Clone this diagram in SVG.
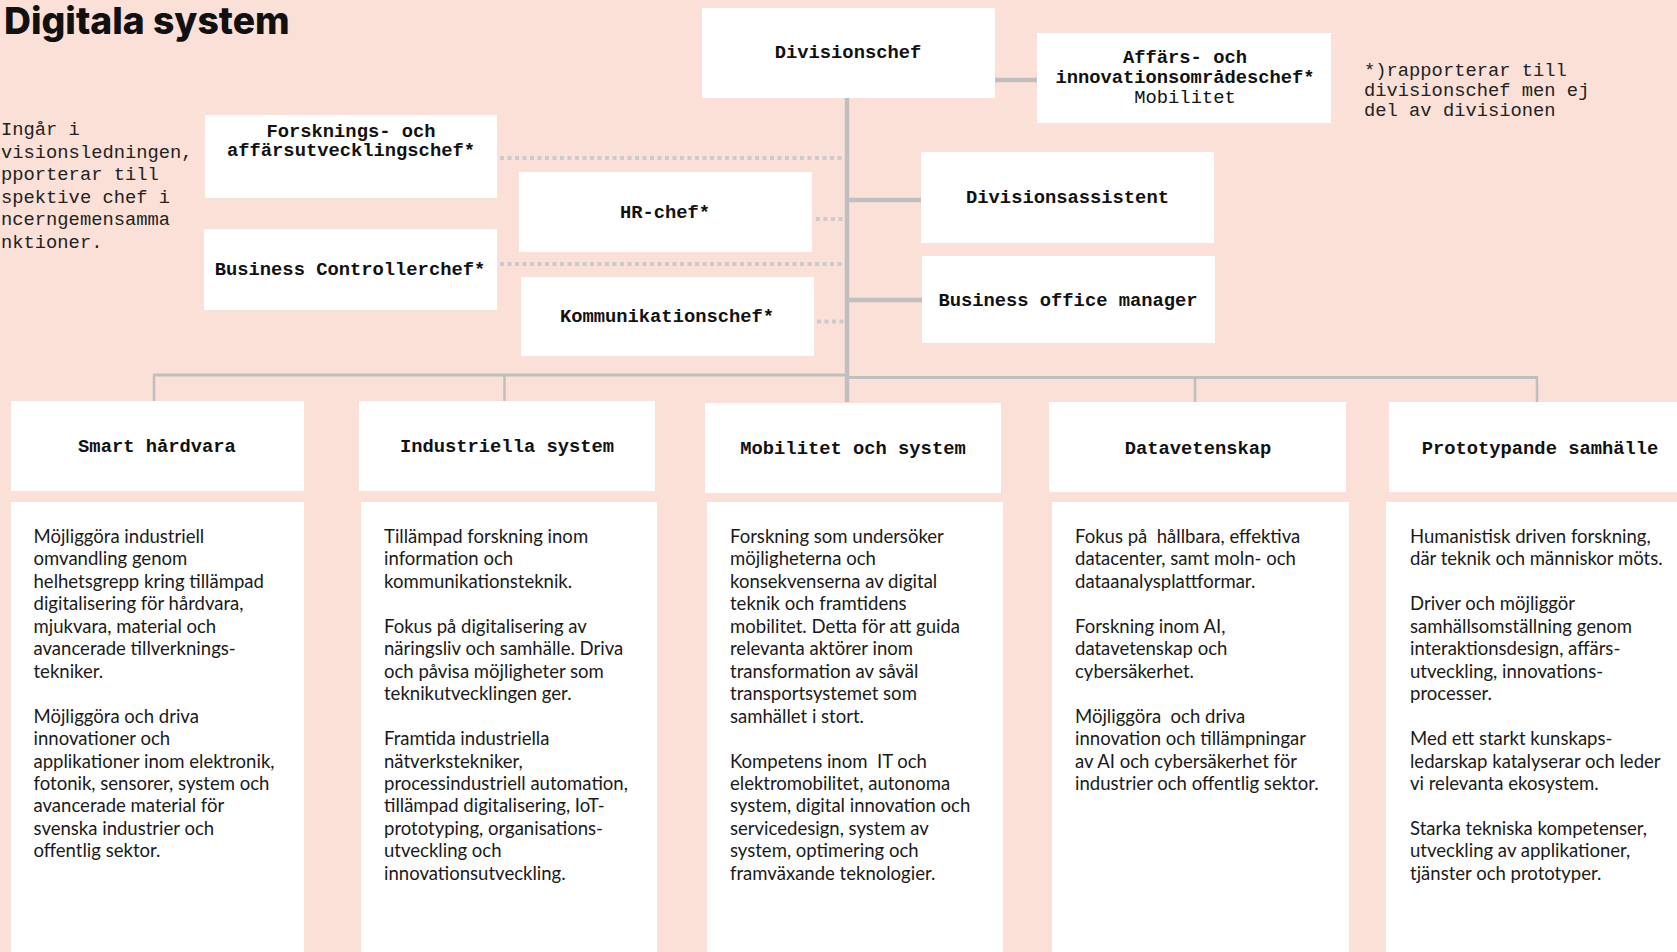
<svg xmlns="http://www.w3.org/2000/svg" width="1677" height="952" viewBox="0 0 1677 952">
<style>
.box{fill:#ffffff}
.lbl{font-family:"Liberation Mono","DejaVu Sans Mono",monospace;font-size:18.8px;font-weight:bold;fill:#111111;text-anchor:middle}
.reg{font-weight:normal}
.note{font-family:"Liberation Mono","DejaVu Sans Mono",monospace;font-size:18.8px;fill:#222222}
.body{font-family:Lato,"Open Sans",sans-serif;font-size:18.55px;fill:#1a1a1a}
.solid{stroke:#bfbfbf;stroke-width:4.5;fill:none}
.bus{stroke:#bfbfbf;stroke-width:3;fill:none}
.drop{stroke:#bfbfbf;stroke-width:2.5;fill:none}
.dot{stroke:#cbcbcb;stroke-width:4;stroke-dasharray:4 3.5;fill:none}
</style>
<rect x="0" y="0" width="1677" height="952" fill="#fae0d7"/>
<text x="4" y="34" font-family="Inter,'Open Sans',sans-serif" font-weight="800" font-size="37.3" fill="#111111">Digitala system</text>
<g id="note-left" class="note">
<text x="1" y="135">Ingår i</text>
<text x="1" y="157.5">visionsledningen,</text>
<text x="1" y="180">pporterar till</text>
<text x="1" y="202.5">spektive chef i</text>
<text x="1" y="225">ncerngemensamma</text>
<text x="1" y="247.5">nktioner.</text>
</g>
<g id="note-right" class="note">
<text x="1364" y="76">*)rapporterar till</text>
<text x="1364" y="96">divisionschef men ej</text>
<text x="1364" y="116">del av divisionen</text>
</g>
<g id="connectors">
<line class="solid" x1="847" y1="98" x2="847" y2="402"/>
<line class="solid" x1="995" y1="80" x2="1037" y2="80"/>
<line class="solid" x1="847" y1="200" x2="921" y2="200"/>
<line class="solid" x1="849" y1="300" x2="922" y2="300"/>
<line class="dot" x1="500" y1="158" x2="843" y2="158"/>
<line class="dot" x1="816" y1="219" x2="843" y2="219"/>
<line class="dot" x1="500" y1="264" x2="845" y2="264"/>
<line class="dot" x1="817" y1="321.5" x2="845" y2="321.5"/>
<line class="bus" x1="153" y1="375" x2="847" y2="375"/>
<line class="bus" x1="847" y1="377.5" x2="1538" y2="377.5"/>
<line class="drop" x1="154" y1="375" x2="154" y2="401"/>
<line class="drop" x1="504.5" y1="375" x2="504.5" y2="401"/>
<line class="drop" x1="1195" y1="377.5" x2="1195" y2="402"/>
<line class="drop" x1="1537" y1="377.5" x2="1537" y2="402"/>
</g>
<g id="divisionschef"><rect class="box" x="702" y="8" width="293" height="90"/><text class="lbl" x="848" y="58">Divisionschef</text></g>
<g id="affars"><rect class="box" x="1037" y="33" width="294" height="90"/><text class="lbl" x="1185" y="63">Affärs- och</text><text class="lbl" x="1185" y="83">innovationsområdeschef*</text><text class="lbl reg" x="1185" y="103">Mobilitet</text></g>
<g id="forsknings"><rect class="box" x="205" y="115" width="292" height="83"/><text class="lbl" x="351" y="137">Forsknings- och</text><text class="lbl" x="351" y="156">affärsutvecklingschef*</text></g>
<g id="hr"><rect class="box" x="519" y="172" width="293" height="80"/><text class="lbl" x="665" y="218">HR-chef*</text></g>
<g id="divisionsassistent"><rect class="box" x="921" y="152" width="293" height="91"/><text class="lbl" x="1067.5" y="203">Divisionsassistent</text></g>
<g id="controller"><rect class="box" x="204" y="229" width="293" height="81"/><text class="lbl" x="350" y="275">Business Controllerchef*</text></g>
<g id="kommunikation"><rect class="box" x="521" y="277" width="293" height="79"/><text class="lbl" x="667" y="322">Kommunikationschef*</text></g>
<g id="bom"><rect class="box" x="922" y="256" width="293" height="87"/><text class="lbl" x="1068" y="305.5">Business office manager</text></g>
<g id="smart">
<rect class="box" x="11" y="401" width="293" height="90"/><text class="lbl" x="157" y="452">Smart hårdvara</text>
<rect class="box" x="11" y="502" width="293" height="460"/>
<text class="body">
<tspan x="33.5" y="543">Möjliggöra industriell</tspan>
<tspan x="33.5" y="565.45">omvandling genom</tspan>
<tspan x="33.5" y="587.9">helhetsgrepp kring tillämpad</tspan>
<tspan x="33.5" y="610.35">digitalisering för hårdvara,</tspan>
<tspan x="33.5" y="632.8">mjukvara, material och</tspan>
<tspan x="33.5" y="655.25">avancerade tillverknings-</tspan>
<tspan x="33.5" y="677.7">tekniker.</tspan>
<tspan x="33.5" y="722.6">Möjliggöra och driva</tspan>
<tspan x="33.5" y="745.05">innovationer och</tspan>
<tspan x="33.5" y="767.5">applikationer inom elektronik,</tspan>
<tspan x="33.5" y="789.95">fotonik, sensorer, system och</tspan>
<tspan x="33.5" y="812.4">avancerade material för</tspan>
<tspan x="33.5" y="834.85">svenska industrier och</tspan>
<tspan x="33.5" y="857.3">offentlig sektor.</tspan>
</text>
</g>
<g id="industriella">
<rect class="box" x="359" y="401" width="296" height="90"/><text class="lbl" x="507" y="452">Industriella system</text>
<rect class="box" x="361" y="502" width="296" height="460"/>
<text class="body">
<tspan x="384" y="543">Tillämpad forskning inom</tspan>
<tspan x="384" y="565.45">information och</tspan>
<tspan x="384" y="587.9">kommunikationsteknik.</tspan>
<tspan x="384" y="632.8">Fokus på digitalisering av</tspan>
<tspan x="384" y="655.25">näringsliv och samhälle. Driva</tspan>
<tspan x="384" y="677.7">och påvisa möjligheter som</tspan>
<tspan x="384" y="700.15">teknikutvecklingen ger.</tspan>
<tspan x="384" y="745.05">Framtida industriella</tspan>
<tspan x="384" y="767.5">nätverkstekniker,</tspan>
<tspan x="384" y="789.95">processindustriell automation,</tspan>
<tspan x="384" y="812.4">tillämpad digitalisering, IoT-</tspan>
<tspan x="384" y="834.85">prototyping, organisations-</tspan>
<tspan x="384" y="857.3">utveckling och</tspan>
<tspan x="384" y="879.75">innovationsutveckling.</tspan>
</text>
</g>
<g id="mobilitet">
<rect class="box" x="705" y="403" width="296" height="90"/><text class="lbl" x="853" y="454">Mobilitet och system</text>
<rect class="box" x="707" y="502" width="296" height="460"/>
<text class="body">
<tspan x="730" y="543">Forskning som undersöker</tspan>
<tspan x="730" y="565.45">möjligheterna och</tspan>
<tspan x="730" y="587.9">konsekvenserna av digital</tspan>
<tspan x="730" y="610.35">teknik och framtidens</tspan>
<tspan x="730" y="632.8">mobilitet. Detta för att guida</tspan>
<tspan x="730" y="655.25">relevanta aktörer inom</tspan>
<tspan x="730" y="677.7">transformation av såväl</tspan>
<tspan x="730" y="700.15">transportsystemet som</tspan>
<tspan x="730" y="722.6">samhället i stort.</tspan>
<tspan x="730" y="767.5">Kompetens inom &#160;IT och</tspan>
<tspan x="730" y="789.95">elektromobilitet, autonoma</tspan>
<tspan x="730" y="812.4">system, digital innovation och</tspan>
<tspan x="730" y="834.85">servicedesign, system av</tspan>
<tspan x="730" y="857.3">system, optimering och</tspan>
<tspan x="730" y="879.75">framväxande teknologier.</tspan>
</text>
</g>
<g id="datavetenskap">
<rect class="box" x="1049" y="402" width="297" height="90"/><text class="lbl" x="1198" y="454">Datavetenskap</text>
<rect class="box" x="1052" y="502" width="297" height="460"/>
<text class="body">
<tspan x="1075" y="543">Fokus på &#160;hållbara, effektiva</tspan>
<tspan x="1075" y="565.45">datacenter, samt moln- och</tspan>
<tspan x="1075" y="587.9">dataanalysplattformar.</tspan>
<tspan x="1075" y="632.8">Forskning inom AI,</tspan>
<tspan x="1075" y="655.25">datavetenskap och</tspan>
<tspan x="1075" y="677.7">cybersäkerhet.</tspan>
<tspan x="1075" y="722.6">Möjliggöra &#160;och driva</tspan>
<tspan x="1075" y="745.05">innovation och tillämpningar</tspan>
<tspan x="1075" y="767.5">av AI och cybersäkerhet för</tspan>
<tspan x="1075" y="789.95">industrier och offentlig sektor.</tspan>
</text>
</g>
<g id="prototypande">
<rect class="box" x="1389" y="402" width="300" height="90"/><text class="lbl" x="1540" y="454">Prototypande samhälle</text>
<rect class="box" x="1386" y="502" width="300" height="460"/>
<text class="body">
<tspan x="1410" y="543">Humanistisk driven forskning,</tspan>
<tspan x="1410" y="565.45">där teknik och människor möts.</tspan>
<tspan x="1410" y="610.35">Driver och möjliggör</tspan>
<tspan x="1410" y="632.8">samhällsomställning genom</tspan>
<tspan x="1410" y="655.25">interaktionsdesign, affärs-</tspan>
<tspan x="1410" y="677.7">utveckling, innovations-</tspan>
<tspan x="1410" y="700.15">processer.</tspan>
<tspan x="1410" y="745.05">Med ett starkt kunskaps-</tspan>
<tspan x="1410" y="767.5">ledarskap katalyserar och leder</tspan>
<tspan x="1410" y="789.95">vi relevanta ekosystem.</tspan>
<tspan x="1410" y="834.85">Starka tekniska kompetenser,</tspan>
<tspan x="1410" y="857.3">utveckling av applikationer,</tspan>
<tspan x="1410" y="879.75">tjänster och prototyper.</tspan>
</text>
</g>
</svg>
